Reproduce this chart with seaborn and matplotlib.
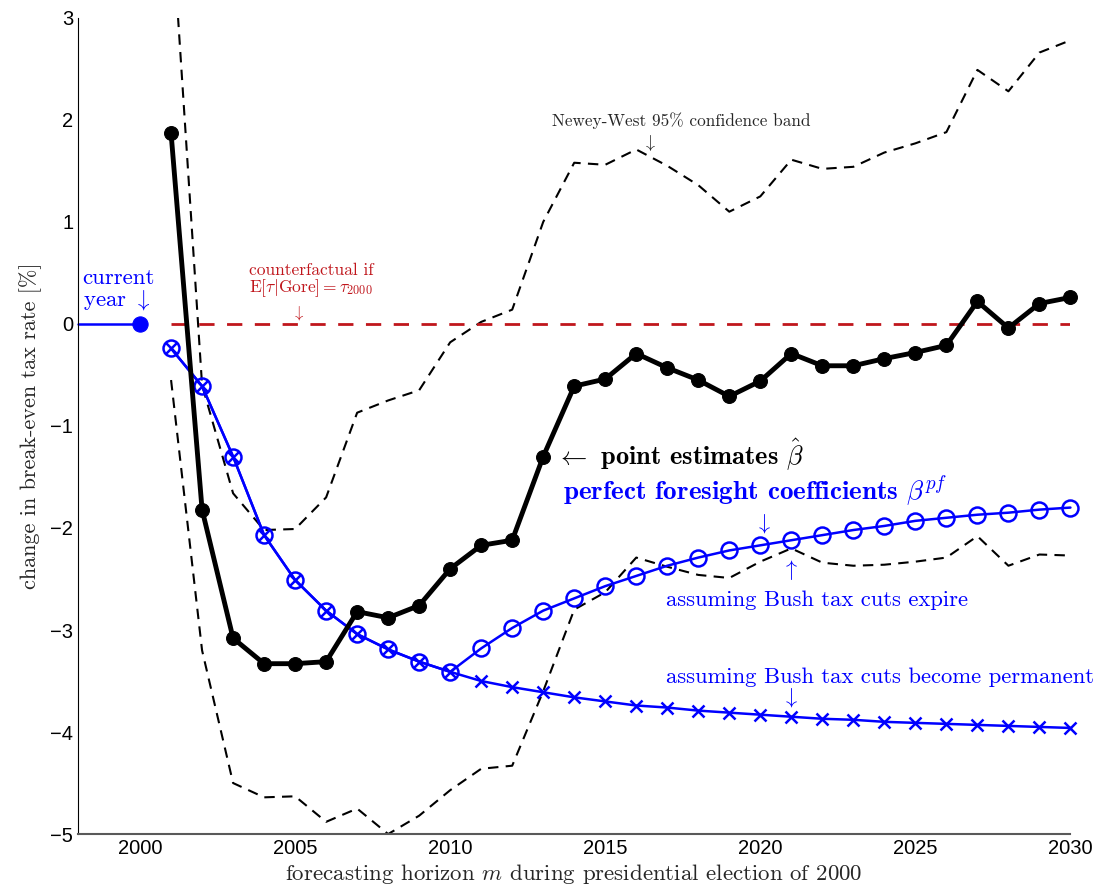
import matplotlib
matplotlib.use("Agg")
import matplotlib.pyplot as plt
import seaborn as sns

# Data
years = list(range(2001, 2031))

point_est = [1.87, -1.82, -3.08, -3.33, -3.33, -3.31, -2.82, -2.88, -2.76, -2.40,
             -2.17, -2.12, -1.30, -0.61, -0.54, -0.29, -0.43, -0.55, -0.71, -0.56,
             -0.29, -0.41, -0.41, -0.34, -0.28, -0.21, 0.22, -0.04, 0.20, 0.26]

pf_expire = [-0.24, -0.61, -1.30, -2.07, -2.51, -2.81, -3.04, -3.19, -3.31, -3.41,
             -3.18, -2.98, -2.81, -2.69, -2.57, -2.47, -2.37, -2.29, -2.22, -2.17,
             -2.12, -2.07, -2.02, -1.98, -1.93, -1.90, -1.87, -1.85, -1.82, -1.80]

pf_permanent = [-0.24, -0.61, -1.30, -2.07, -2.51, -2.81, -3.04, -3.19, -3.31, -3.41,
                -3.50, -3.56, -3.61, -3.66, -3.70, -3.74, -3.76, -3.79, -3.81, -3.83,
                -3.85, -3.87, -3.88, -3.90, -3.91, -3.92, -3.93, -3.94, -3.95, -3.96]

band_upper = [4.05, -0.60, -1.66, -2.02, -2.01, -1.70, -0.87, -0.75, -0.65, -0.18,
              0.02, 0.14, 1.00, 1.58, 1.56, 1.71, 1.55, 1.36, 1.10, 1.25,
              1.61, 1.52, 1.54, 1.68, 1.77, 1.88, 2.49, 2.28, 2.66, 2.78]

band_lower = [-0.55, -3.20, -4.50, -4.64, -4.63, -4.88, -4.75, -5.00, -4.82, -4.57,
              -4.36, -4.33, -3.60, -2.80, -2.63, -2.29, -2.38, -2.46, -2.49, -2.33,
              -2.20, -2.34, -2.37, -2.36, -2.33, -2.29, -2.08, -2.37, -2.26, -2.27]

current_x = [1998, 2000]
current_y = [0, 0]
counterfactual_x = [2001, 2030]
counterfactual_y = [0, 0]

sns.set_style("white")
plt.rcParams['mathtext.fontset'] = 'cm'
plt.rcParams['font.family'] = ['Liberation Sans', 'DejaVu Sans']

RED = '#c0161c'
BLUE = '#0000ff'

fig = plt.figure(figsize=(10.99, 8.93), dpi=100)
ax = fig.add_axes([0.071, 0.066, 0.903, 0.914])

# confidence band
sns.lineplot(x=years, y=band_upper, ax=ax, color='k', lw=1.5,
             linestyle=(0, (5, 3.5)))
sns.lineplot(x=years, y=band_lower, ax=ax, color='k', lw=1.5,
             linestyle=(0, (5, 3.5)))

# counterfactual
sns.lineplot(x=counterfactual_x, y=counterfactual_y, ax=ax, color=RED, lw=2,
             linestyle=(0, (5.5, 4.5)))

# current year
sns.lineplot(x=current_x, y=current_y, ax=ax, color=BLUE, lw=1.8, marker='o',
             markevery=[1], markersize=11, markerfacecolor=BLUE,
             markeredgecolor=BLUE, clip_on=False)

# perfect foresight
sns.lineplot(x=years, y=pf_permanent, ax=ax, color=BLUE, lw=1.8, marker='x',
             markersize=8, markeredgewidth=1.8, markeredgecolor=BLUE,
             clip_on=False)
sns.lineplot(x=years, y=pf_expire, ax=ax, color=BLUE, lw=1.8, marker='o',
             markersize=11.5, markeredgewidth=1.8, markeredgecolor=BLUE,
             markerfacecolor='none', clip_on=False)

# point estimates
sns.lineplot(x=years, y=point_est, ax=ax, color='k', lw=3.5, marker='o',
             markersize=10, markerfacecolor='k', markeredgecolor='k',
             clip_on=False, zorder=5)

ax.set_xlim(1998, 2030)
ax.set_ylim(-5, 3)
ax.set_xticks(range(2000, 2031, 5))
ax.set_yticks(range(-5, 4))
ax.tick_params(direction='in', length=7, width=1, labelsize=14.5, colors='k')
ax.spines['top'].set_visible(False)
ax.spines['right'].set_visible(False)
ax.spines['left'].set_color('k')
ax.spines['bottom'].set_color('0.35')
ax.spines['bottom'].set_linewidth(1.5)

serif = 'cmr10'
bold = 'cmb10'
ax.set_xlabel(r'forecasting horizon $m$ during presidential election of 2000',
              family=serif, fontsize=16.5, labelpad=3)
ax.set_ylabel('change in break-even tax rate [%]', family=serif, fontsize=16,
              labelpad=6)

# annotations
ax.text(1998.15, 0.12, 'current\nyear $\\downarrow$', family=serif, fontsize=16.5,
        color=BLUE, ha='left', va='bottom', linespacing=1.0)
ax.text(2003.5, 0.6, 'counterfactual if\n$\\mathrm{E}[\\tau|\\mathrm{Gore}] = \\tau_{2000}$',
        family=serif, fontsize=12.5, color=RED, ha='left', va='top', linespacing=0.95)
ax.text(2005.1, 0.02, '$\\downarrow$', fontsize=12, color=RED, ha='center', va='bottom')
ax.text(2013.29, 1.99, 'Newey-West 95% confidence band', family=serif, fontsize=12.4,
        color='0.15', ha='left', va='center')
ax.text(2016.42, 1.77, '$\\downarrow$', fontsize=13, color='0.15', ha='center', va='center')
ax.text(2013.42, -1.28, '$\\leftarrow$ point estimates $\\hat{\\beta}$', family=bold,
        fontsize=19, color='k', ha='left', va='center')
ax.text(2013.64, -1.64, 'perfect foresight coefficients $\\beta^{pf}$', family=bold,
        fontsize=19.5, color=BLUE, ha='left', va='center')
ax.text(2020.1, -1.84, '$\\downarrow$', fontsize=16, color=BLUE, ha='center', va='top')
ax.text(2020.98, -2.41, '$\\uparrow$', fontsize=16, color=BLUE, ha='center', va='center')
ax.text(2016.97, -2.71, 'assuming Bush tax cuts expire', family=serif, fontsize=16.3,
        color=BLUE, ha='left', va='center')
ax.text(2016.97, -3.46, 'assuming Bush tax cuts become permanent', family=serif,
        fontsize=16.3, color=BLUE, ha='left', va='center')
ax.text(2020.98, -3.66, '$\\downarrow$', fontsize=16, color=BLUE, ha='center', va='center')

fig.savefig('out.png', dpi=100)
